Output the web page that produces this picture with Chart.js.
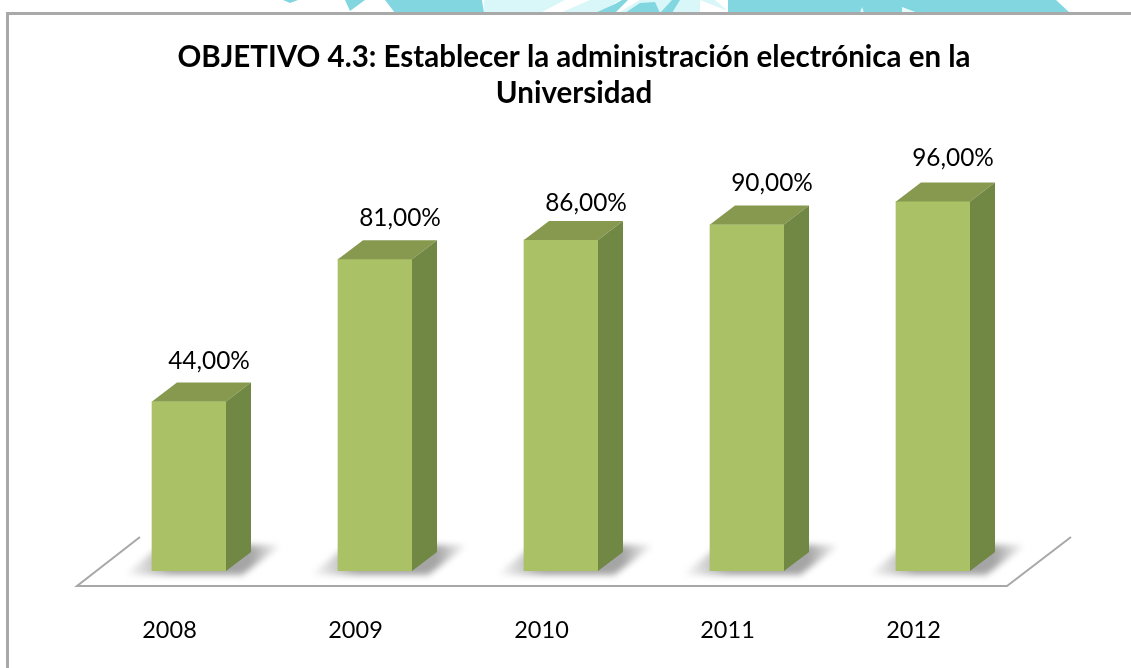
<!DOCTYPE html>
<html><head><meta charset="utf-8">
<style>html,body{margin:0;padding:0;background:#fff;overflow:hidden}canvas{display:block}</style>
<script src="https://cdn.jsdelivr.net/npm/chart.js@4"></script>
</head><body>
<canvas id="c" width="1131" height="668"></canvas>
<script>
const titleLines = ["OBJETIVO 4.3: Establecer la administración electrónica en la", "Universidad"];
const years = ["2008", "2009", "2010", "2011", "2012"];
const values = [44, 81, 86, 90, 96];
const valueLabels = ["44,00%", "81,00%", "86,00%", "90,00%", "96,00%"];
const FONT = 'Lato, "Open Sans", sans-serif';
const labelNudgeX = [20, 25, 25, 25, 20];
const labelNudgeY = [-41, -41, -37, -42, -44];
const DX = 25, DY = 19;

function poly(ctx, pts, fill) {
  ctx.beginPath();
  pts.forEach((p, i) => i ? ctx.lineTo(p[0], p[1]) : ctx.moveTo(p[0], p[1]));
  ctx.closePath();
  ctx.fillStyle = fill;
  ctx.fill();
}

const page = {
  id: 'page',
  beforeDraw(chart) {
    const c = chart.ctx;
    c.save();
    c.fillStyle = '#fff';
    c.fillRect(0, 0, 1131, 668);
    const t = '#82d6e0', l = '#d9f7f8';
    poly(c, [[283,0],[298,0],[290,3]], t);
    poly(c, [[345,0],[365,0],[350,11]], t);
    poly(c, [[385,0],[482,0],[484,13],[395,13]], t);
    poly(c, [[484,0],[700,0],[700,13],[484,13]], l);
    poly(c, [[600,13],[620,0],[640,0],[618,13]], '#fff');
    poly(c, [[540,13],[565,0],[590,0],[560,13]], '#fff');
    poly(c, [[595,13],[615,4],[622,0],[628,0],[615,13]], t);
    poly(c, [[625,13],[640,3],[655,2],[660,13]], t);
    poly(c, [[660,13],[672,0],[680,0],[672,13]], t);
    poly(c, [[728,0],[1056,0],[1070,13],[728,13]], t);
    poly(c, [[700,0],[715,0],[728,11],[715,6]], l);
    poly(c, [[860,13],[862,7],[864,13]], '#e8fbfb');
    poly(c, [[902,13],[902,7],[918,13]], '#e8fbfb');
    c.fillStyle = '#a9a9a9';
    c.fillRect(6, 12, 1125, 3);
    c.fillRect(6, 12, 3, 656);
    c.restore();
  },
  beforeDatasetsDraw(chart) {
    const c = chart.ctx, a = chart.chartArea;
    c.save();
    // floor outline, anchored on the plot area
    const fl = a.left - 19, fr = a.right - 19, fy = a.bottom + 15;
    c.strokeStyle = '#a8a8a8';
    c.lineWidth = 2;
    c.beginPath();
    c.moveTo(fl + 63, fy - 49); c.lineTo(fl, fy); c.lineTo(fr, fy); c.lineTo(fr + 64, fy - 49);
    c.stroke();
    // soft shadow of each bar on the floor
    c.filter = 'blur(3px)';
    chart.getDatasetMeta(0).data.forEach(b => {
      const L = b.x - b.width / 2, R = b.x + b.width / 2, B = b.base;
      const g = c.createLinearGradient(L - 28, 0, R + 56, 0);
      g.addColorStop(0, 'rgba(165,165,165,0)');
      g.addColorStop(0.3, 'rgba(165,165,165,1)');
      g.addColorStop(0.8, 'rgba(165,165,165,1)');
      g.addColorStop(1, 'rgba(165,165,165,0)');
      poly(c, [[L - 28, B + 4], [R + 16, B + 4], [R + 56, B - 26], [L + 10, B - 26]], g);
    });
    c.restore();
  },
  afterDatasetsDraw(chart) {
    const c = chart.ctx;
    c.save();
    chart.getDatasetMeta(0).data.forEach((b, i) => {
      const L = b.x - b.width / 2, R = b.x + b.width / 2, T = b.y, B = b.base;
      poly(c, [[L, T], [L + DX, T - DY], [R + DX, T - DY], [R, T]], '#86994f');
      poly(c, [[R, T], [R + DX, T - DY], [R + DX, B - DY], [R, B]], '#708844');
      c.fillStyle = '#000';
      c.font = '24.4px ' + FONT;
      c.textAlign = 'center';
      c.textBaseline = 'middle';
      c.fillText(valueLabels[i], b.x + labelNudgeX[i], T + labelNudgeY[i] + 0.5);
    });
    c.restore();
  }
};

new Chart(document.getElementById('c'), {
  type: 'bar',
  data: {
    labels: years,
    datasets: [{ data: values, backgroundColor: '#aac166', barThickness: 74, borderWidth: 0 }]
  },
  plugins: [page],
  options: {
    responsive: false,
    animation: false,
    layout: { padding: { left: 17, right: 0, top: 0, bottom: 0 } },
    plugins: {
      legend: { display: false },
      tooltip: { enabled: false },
      title: {
        display: true,
        text: titleLines,
        color: '#000',
        font: { family: FONT, size: 29.5, weight: 'bold', lineHeight: 1.22 },
        padding: { top: 39, bottom: 75 }
      }
    },
    scales: {
      x: {
        grid: { display: false, drawTicks: false },
        border: { display: false },
        ticks: { color: '#000', font: { family: FONT, size: 23.5 }, padding: 45, labelOffset: -19.5, maxRotation: 0 },
        afterFit(s) { s.height = 97; }
      },
      y: {
        min: 0, max: 100,
        grid: { display: false, drawTicks: false },
        border: { display: false },
        ticks: { display: false },
        afterFit(s) { s.width = 79; }
      },
      yRight: {
        position: 'right',
        min: 0, max: 100,
        grid: { display: false, drawTicks: false },
        border: { display: false },
        ticks: { display: false },
        afterFit(s) { s.width = 105; }
      }
    }
  }
});
</script>
</body></html>
